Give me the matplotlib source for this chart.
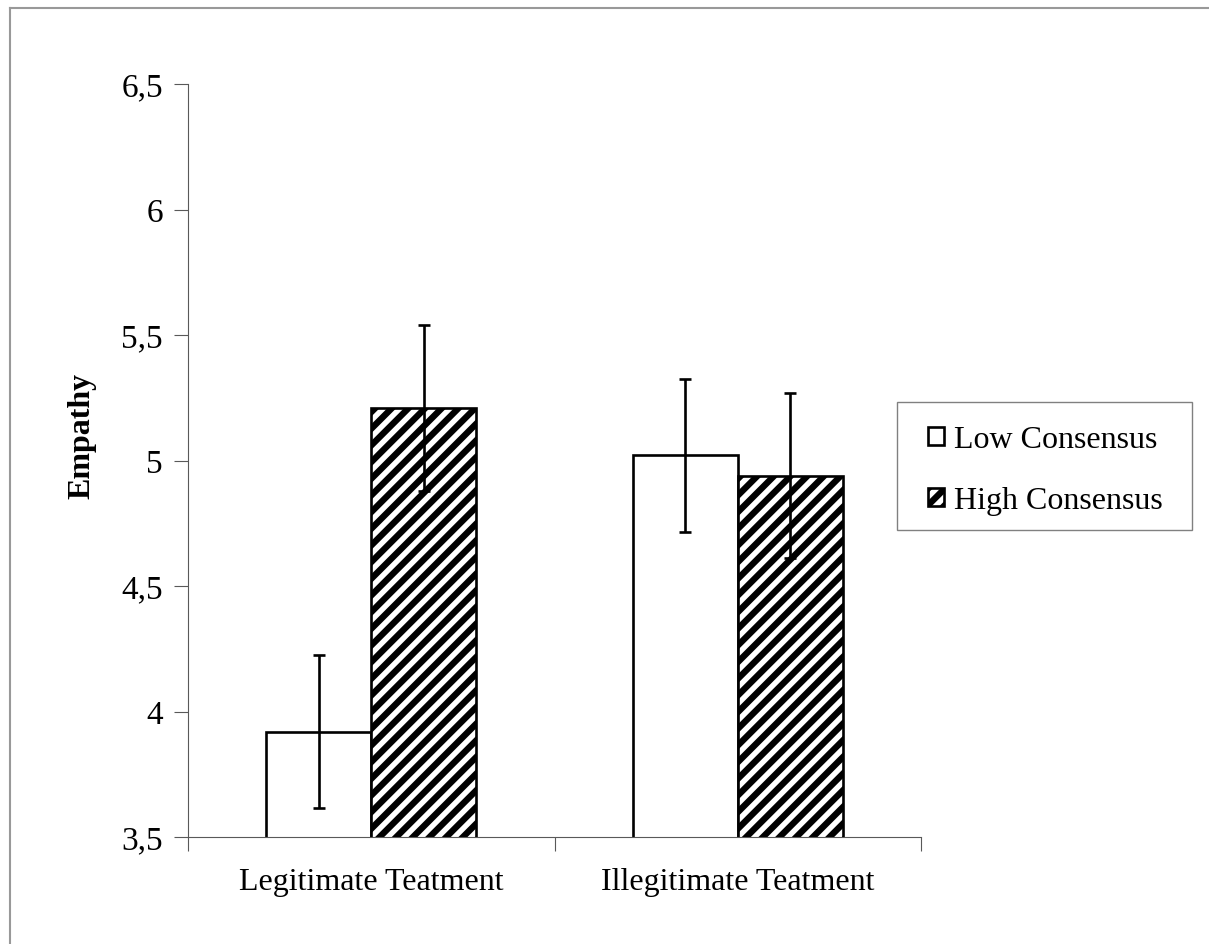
import matplotlib
matplotlib.use("Agg")
import matplotlib.pyplot as plt
import numpy as np
from matplotlib.lines import Line2D
from matplotlib.patches import Rectangle

# values
categories = ["Legitimate Teatment", "Illegitimate Teatment"]
series = ["Low Consensus", "High Consensus"]
low_means = [3.92, 5.02]
low_err = [0.305, 0.305]
high_means = [5.21, 4.94]
high_err = [0.33, 0.33]
yticks = [3.5, 4, 4.5, 5, 5.5, 6, 6.5]
ytick_labels = ["3,5", "4", "4,5", "5", "5,5", "6", "6,5"]

plt.rcParams["font.family"] = ["Liberation Serif", "DejaVu Serif"]
plt.rcParams["hatch.linewidth"] = 4.6
plt.rcParams["hatch.color"] = "black"

W, H = 1209, 945
fig = plt.figure(figsize=(W / 100, H / 100), dpi=100)
ax = fig.add_axes([188 / W, 1 - 838 / H, (921 - 188) / W, (838 - 85) / H])

x = np.arange(len(categories))
w = 0.287
ekw = dict(elinewidth=1.9, capthick=1.9, ecolor="black")
ax.bar(x - w / 2, low_means, w, color="white", edgecolor="black",
       linewidth=1.9, label=series[0], yerr=low_err, capsize=4, error_kw=ekw, zorder=2)
ax.bar(x + w / 2, high_means, w, color="white", edgecolor="black", hatch="//",
       linewidth=1.9, label=series[1], yerr=high_err, capsize=4, error_kw=ekw, zorder=2)

ax.set_ylim(3.5, 6.5)
ax.set_xlim(-0.5, 1.5)
ax.set_yticks(yticks)
ax.set_yticklabels(ytick_labels, fontsize=24)
# ticks sit on the category boundaries, labels in the middle
ax.set_xticks([-0.5, 0.5, 1.5])
ax.set_xticklabels([])
ax.set_xticks(x, minor=True)
ax.set_xticklabels(categories, minor=True, fontsize=23)
ax.tick_params(axis="x", which="minor", length=0, pad=21.5)
ax.tick_params(axis="both", which="major", length=10, width=0.8, color="#595959",
               direction="out", pad=8)
for s in ["top", "right"]:
    ax.spines[s].set_visible(False)
for s in ["left", "bottom"]:
    ax.spines[s].set_color("#595959")
    ax.spines[s].set_linewidth(0.8)

# label sits a little above the axis centre in the reference
ax.set_ylabel("Empathy", fontsize=23, fontweight="bold", labelpad=18, y=0.534)

# legend without its own frame; the box is drawn separately to get the wider padding
leg = ax.legend(loc="center left", bbox_to_anchor=(928 / W, 1 - 471 / H),
                bbox_transform=fig.transFigure, fontsize=23, frameon=False,
                handlelength=0.5, handleheight=0.5, handletextpad=0.3,
                labelspacing=1.0, borderpad=0, borderaxespad=0)
fig.add_artist(Rectangle((897 / W, 1 - 531 / H), (1192 - 897) / W, (531 - 403) / H,
                         transform=fig.transFigure, facecolor="none",
                         edgecolor="#808080", linewidth=1.0))

# outer frame of the original figure (only left and top visible)
fig.add_artist(Line2D([10 / W, 10 / W], [0, 1 - 9 / H], transform=fig.transFigure,
                      color="#999999", linewidth=1.5))
fig.add_artist(Line2D([10 / W, 1], [1 - 9 / H, 1 - 9 / H], transform=fig.transFigure,
                      color="#999999", linewidth=1.5))

fig.savefig("out.png", dpi=100)
